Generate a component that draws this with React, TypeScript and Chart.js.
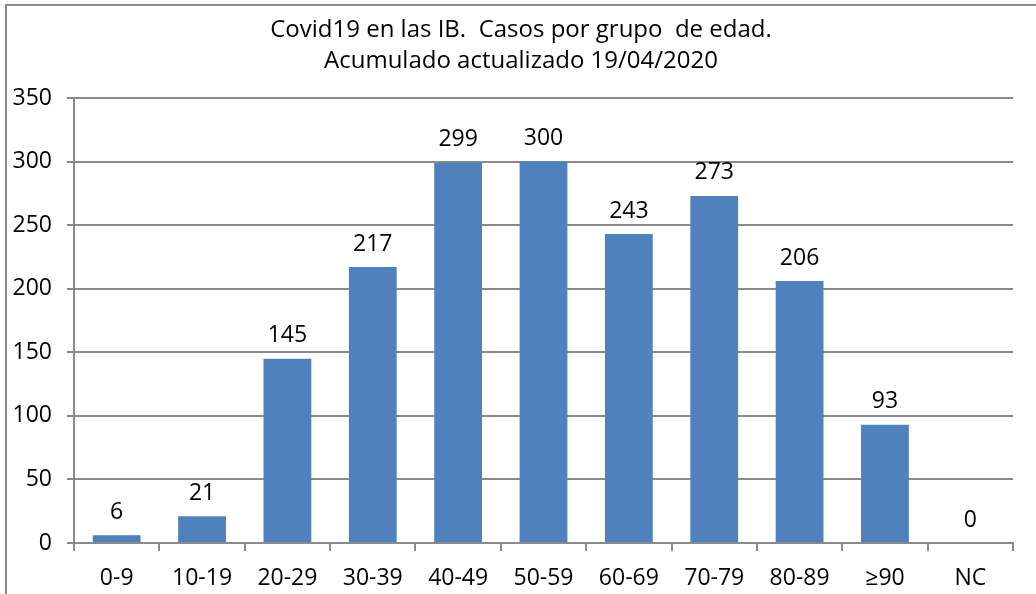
import React, { useEffect, useRef } from 'react';
import { Chart, registerables } from 'chart.js';

Chart.register(...registerables);

const categories = ['0-9', '10-19', '20-29', '30-39', '40-49', '50-59', '60-69', '70-79', '80-89', '≥90', 'NC'];
const cases = [6, 21, 145, 217, 299, 300, 243, 273, 206, 93, 0];
const yMin = 0;
const yMax = 350;
const yStep = 50;
const titleLines = ['Covid19 en las IB.  Casos por grupo  de edad.', 'Acumulado actualizado 19/04/2020'];

const FONT = '"Open Sans", "Noto Sans", sans-serif';
const GRAY = '#8a8a8a';

const framePlugin = {
  id: 'frame',
  beforeDraw(chart: any) {
    const ctx = chart.ctx;
    ctx.save();
    ctx.fillStyle = '#ffffff';
    ctx.fillRect(0, 0, chart.width, chart.height);
    ctx.strokeStyle = GRAY;
    ctx.lineWidth = 2;
    ctx.strokeRect(6, 5, chart.width + 50, chart.height + 50);
    ctx.restore();
  },
};

const titlePlugin = {
  id: 'twoLineTitle',
  afterDraw(chart: any) {
    const ctx = chart.ctx;
    ctx.save();
    ctx.font = `24px ${FONT}`;
    ctx.fillStyle = '#000';
    ctx.textAlign = 'center';
    ctx.textBaseline = 'middle';
    titleLines.forEach((line, i) => {
      ctx.fillText(line, 521, 30 + i * 31);
    });
    ctx.restore();
  },
};

const valueLabelPlugin = {
  id: 'valueLabels',
  afterDatasetsDraw(chart: any) {
    const ctx = chart.ctx;
    const meta = chart.getDatasetMeta(0);
    const data = chart.data.datasets[0].data;
    ctx.save();
    ctx.font = `23px ${FONT}`;
    ctx.fillStyle = '#000';
    ctx.textAlign = 'center';
    ctx.textBaseline = 'middle';
    meta.data.forEach((bar: any, i: number) => {
      ctx.fillText(String(data[i]), bar.x, bar.y - 23);
    });
    ctx.restore();
  },
};

export default function App() {
  const ref = useRef<HTMLCanvasElement | null>(null);

  useEffect(() => {
    document.body.style.margin = '0';
    const canvas = ref.current;
    if (!canvas) return;
    const chart = new Chart(canvas, {
      type: 'bar',
      data: {
        labels: categories,
        datasets: [
          {
            data: cases,
            backgroundColor: '#4f81bd',
            borderWidth: 0,
            barPercentage: 0.56,
            categoryPercentage: 1.0,
          },
        ],
      },
      options: {
        responsive: false,
        animation: false,
        layout: { padding: { left: 0, right: 23, top: 98, bottom: 0 } },
        plugins: {
          legend: { display: false },
          tooltip: { enabled: false },
          title: { display: false },
        },
        scales: {
          x: {
            grid: {
              offset: true,
              drawOnChartArea: false,
              drawTicks: true,
              tickLength: 8,
              color: GRAY,
              lineWidth: 2,
            },
            border: { display: true, color: GRAY, width: 2 },
            ticks: {
              color: '#000',
              font: { family: FONT, size: 23 },
              padding: 14,
              maxRotation: 0,
              autoSkip: false,
            },
            afterFit: (scale: any) => {
              scale.height = 51;
            },
          },
          y: {
            min: yMin,
            max: yMax,
            grid: {
              color: GRAY,
              lineWidth: 2,
              drawTicks: true,
              tickLength: 7,
            },
            border: { display: true, color: GRAY, width: 2 },
            ticks: {
              stepSize: yStep,
              color: '#000',
              font: { family: FONT, size: 23 },
              padding: 15,
            },
            afterFit: (scale: any) => {
              scale.width = 74;
            },
          },
        },
      },
      plugins: [framePlugin, titlePlugin, valueLabelPlugin],
    } as any);
    return () => chart.destroy();
  }, []);

  return <canvas ref={ref} width={1036} height={594} style={{ display: 'block' }} />;
}
